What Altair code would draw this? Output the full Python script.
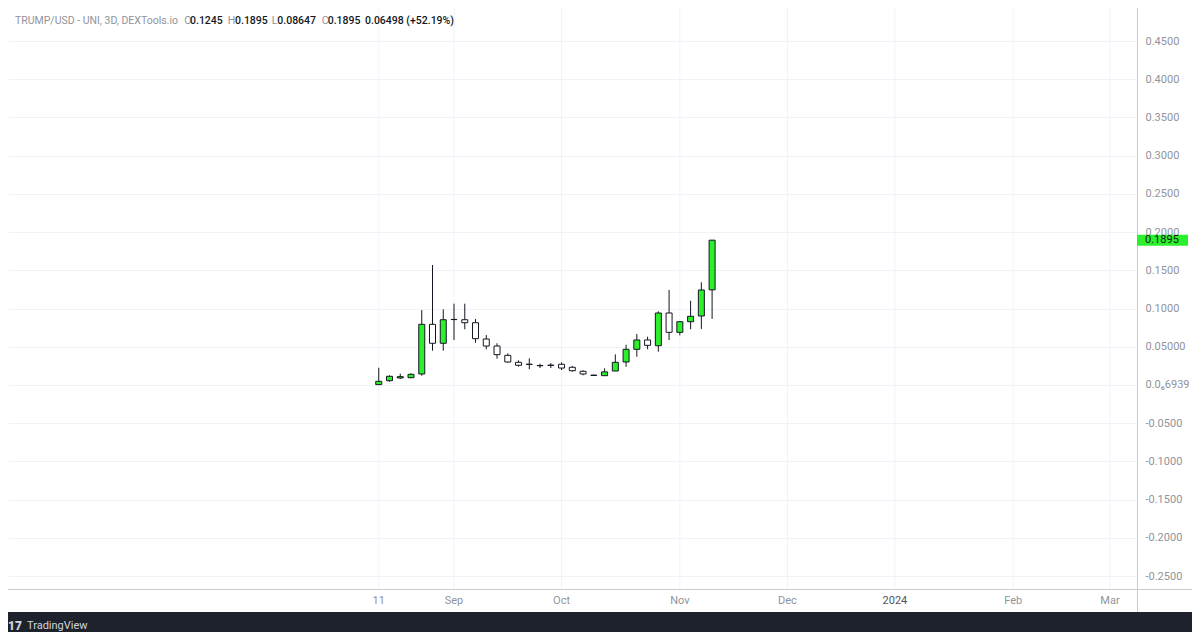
import altair as alt
import pandas as pd

# ---------------- data ----------------
FIRST_BAR = "2023-08-11"          # first 3-day candle
BAR_STEP = "3D"
OPEN  = [0.0005, 0.0056, 0.0092, 0.0096, 0.0144, 0.0794, 0.0546, 0.0858,
         0.0854, 0.0815, 0.0602, 0.0510, 0.0388, 0.0297, 0.0272, 0.0255,
         0.0256, 0.0271, 0.0232, 0.0179, 0.0129, 0.0122, 0.0183, 0.0301,
         0.0467, 0.0589, 0.0514, 0.0942, 0.0689, 0.0828, 0.0903, 0.1245]
HIGH  = [0.0226, 0.0127, 0.0148, 0.0153, 0.0981, 0.1570, 0.0990, 0.1064,
         0.1064, 0.0864, 0.0654, 0.0546, 0.0415, 0.0323, 0.0349, 0.0279,
         0.0286, 0.0297, 0.0249, 0.0192, 0.0135, 0.0218, 0.0401, 0.0527,
         0.0667, 0.0632, 0.0964, 0.1243, 0.0830, 0.1103, 0.1344, 0.1895]
LOW   = [0.0003, 0.0043, 0.0078, 0.0088, 0.0122, 0.0449, 0.0449, 0.0589,
         0.0729, 0.0553, 0.0467, 0.0344, 0.0292, 0.0239, 0.0205, 0.0222,
         0.0222, 0.0196, 0.0174, 0.0127, 0.0118, 0.0118, 0.0183, 0.0239,
         0.0370, 0.0467, 0.0436, 0.0589, 0.0650, 0.0729, 0.0733, 0.08647]
CLOSE = [0.0048, 0.0114, 0.0109, 0.0140, 0.0794, 0.0546, 0.0854, 0.0856,
         0.0815, 0.0606, 0.0510, 0.0397, 0.0301, 0.0258, 0.0269, 0.0252,
         0.0260, 0.0222, 0.0187, 0.0144, 0.0125, 0.0172, 0.0297, 0.0467,
         0.0589, 0.0519, 0.0942, 0.0689, 0.0828, 0.0899, 0.1243, 0.1895]

TICK_DATES  = ["2023-08-11", "2023-09-01", "2023-10-01", "2023-11-03",
               "2023-12-03", "2024-01-02", "2024-02-04", "2024-03-02"]
TICK_LABELS = ["11", "Sep", "Oct", "Nov", "Dec", "2024", "Feb", "Mar"]

Y_TICKS  = [0.45, 0.4, 0.35, 0.3, 0.25, 0.2, 0.15, 0.1, 0.05, 0.0,
            -0.05, -0.1, -0.15, -0.2, -0.25]
Y_LABELS = ["0.4500", "0.4000", "0.3500", "0.3000", "0.2500", "0.2000",
            "0.1500", "0.1000", "0.05000", "0.0\u20866939", "-0.0500",
            "-0.1000", "-0.1500", "-0.2000", "-0.2500"]

HEADER = ["TRUMP/USD - UNI, 3D, DEXTools.io", "O", "0.1245", "H", "0.1895",
          "L", "0.08647", "C", "0.1895", "0.06498 (+52.19%)"]
BRAND = "TradingView"

X_DOMAIN = ["2023-04-30T23:17:00Z", "2024-03-08T03:20:00Z"]
Y_DOMAIN = [-0.26691, 0.49326]

# ---------------- styles ----------------
FONT = "Roboto"
GREEN = "#2cf02c"
INK = "#131722"
GRAY = "#90939c"
GRID = "#f0f3fa"
SEP = "#c9cbd1"
DARK = "#1e222d"
W, H = 1129, 581


def ms(s):
    return int(pd.Timestamp(s).value // 10**6)


dates = pd.date_range(FIRST_BAR, periods=len(OPEN), freq=BAR_STEP)
df = pd.DataFrame({
    "t": [int(d.value // 10**6) for d in dates],
    "open": OPEN, "high": HIGH, "low": LOW, "close": CLOSE,
})
ticks = pd.DataFrame({"t": [ms(d) for d in TICK_DATES], "label": TICK_LABELS})

xscale = alt.Scale(domain=[ms(d) for d in X_DOMAIN], nice=False)
yscale = alt.Scale(domain=Y_DOMAIN, nice=False, zero=False)

label_expr = "[" + ",".join("'%s'" % s for s in Y_LABELS) + "][indexof([" + \
    ",".join(repr(v) for v in Y_TICKS) + "], datum.value)]"
yaxis = alt.Axis(orient="right", values=Y_TICKS, labelExpr=label_expr,
                 title=None, ticks=False, domain=False, grid=True,
                 gridColor=GRID, gridWidth=1, labelPadding=8,
                 labelFont=FONT, labelFontSize=11, labelColor=GRAY,
                 labelAlign="left", labelBaseline="middle")

X = alt.X("t:T", scale=xscale, axis=None)


def one():
    return alt.Data(values=[{}])


# vertical grid lines at the month ticks
vgrid = alt.Chart(ticks).mark_rule(color=GRID, strokeWidth=1).encode(
    x=X, y=alt.value(0), y2=alt.value(H))

wicks = alt.Chart(df).mark_rule(color=INK, strokeWidth=1).encode(
    x=X, y=alt.Y("low:Q", scale=yscale, axis=yaxis), y2="high:Q")

bodies = alt.Chart(df).mark_bar(size=6, stroke=INK, strokeWidth=1).encode(
    x=X, y=alt.Y("open:Q", scale=yscale, axis=yaxis), y2="close:Q",
    fill=alt.condition("datum.close >= datum.open", alt.value(GREEN),
                       alt.value("#ffffff")))

# separators of price scale and time scale
vsep = alt.Chart(one()).mark_rule(color=SEP, strokeWidth=1).encode(
    x=alt.value(W + 0.5), y=alt.value(0), y2=alt.value(H + 23))
hsep = alt.Chart(one()).mark_rule(color=SEP, strokeWidth=1).encode(
    x=alt.value(0), x2=alt.value(W + 55), y=alt.value(H + 0.5))

# time-axis labels
xlabels = alt.Chart(ticks).mark_text(font=FONT, fontSize=11, baseline="middle",
                                     align="center").encode(
    x=X, y=alt.value(H + 12), text="label:N",
    color=alt.condition("datum.label == '2024'", alt.value("#50535e"),
                        alt.value(GRAY)))

# last price label
last = df.tail(1)
price_box = alt.Chart(last).mark_rect(color=GREEN, yOffset=-5.5,
                                      y2Offset=5.5).encode(
    x=alt.value(W), x2=alt.value(W + 51),
    y=alt.Y("close:Q", scale=yscale, axis=yaxis), y2="close:Q")
price_txt = alt.Chart(last).mark_text(font=FONT, fontSize=11, color=INK,
                                      align="left", baseline="middle").encode(
    x=alt.value(W + 8), y=alt.Y("close:Q", scale=yscale, axis=yaxis),
    text=alt.Text("close:Q", format=".4f"))

# header legend
hx = [7, 176.3, 182, 219.7, 227, 263.7, 269.3, 313.7, 319.7, 357]
hcol = [GRAY, GRAY, INK, GRAY, INK, GRAY, INK, GRAY, INK, INK]
hw = [400, 400, 500, 400, 500, 400, 500, 400, 500, 500]
header = [
    alt.Chart(one()).mark_text(text=s, font=FONT, fontSize=10.5, color=c,
                               fontWeight=w, align="left",
                               baseline="middle").encode(
        x=alt.value(x), y=alt.value(13))
    for s, x, c, w in zip(HEADER, hx, hcol, hw)
]

# bottom brand strip
strip = alt.Chart(one()).mark_rect(color=DARK).encode(
    x=alt.value(-1), x2=alt.value(W + 56), y=alt.value(H + 23),
    y2=alt.value(H + 44))
logo = alt.Chart(one()).mark_text(text="17", font=FONT, fontSize=12,
                                  fontWeight=900, color="#d1d4dc",
                                  align="left", baseline="middle").encode(
    x=alt.value(0), y=alt.value(H + 37))
brand = alt.Chart(one()).mark_text(text=BRAND, font=FONT, fontSize=11,
                                   color="#d1d4dc", align="left",
                                   baseline="middle").encode(
    x=alt.value(19), y=alt.value(H + 37))

chart = alt.layer(
    vgrid, wicks, bodies, vsep, hsep, xlabels, price_box, price_txt,
    *header, strip, logo, brand
).properties(
    width=W, height=H,
    autosize=alt.AutoSizeParams(type="none"),
    padding={"left": 0, "top": 0, "right": 55, "bottom": 43},
    background="white",
).configure_view(strokeWidth=0, fill="white")

chart.save("out.html", embed_options={"renderer": "svg", "actions": False})
